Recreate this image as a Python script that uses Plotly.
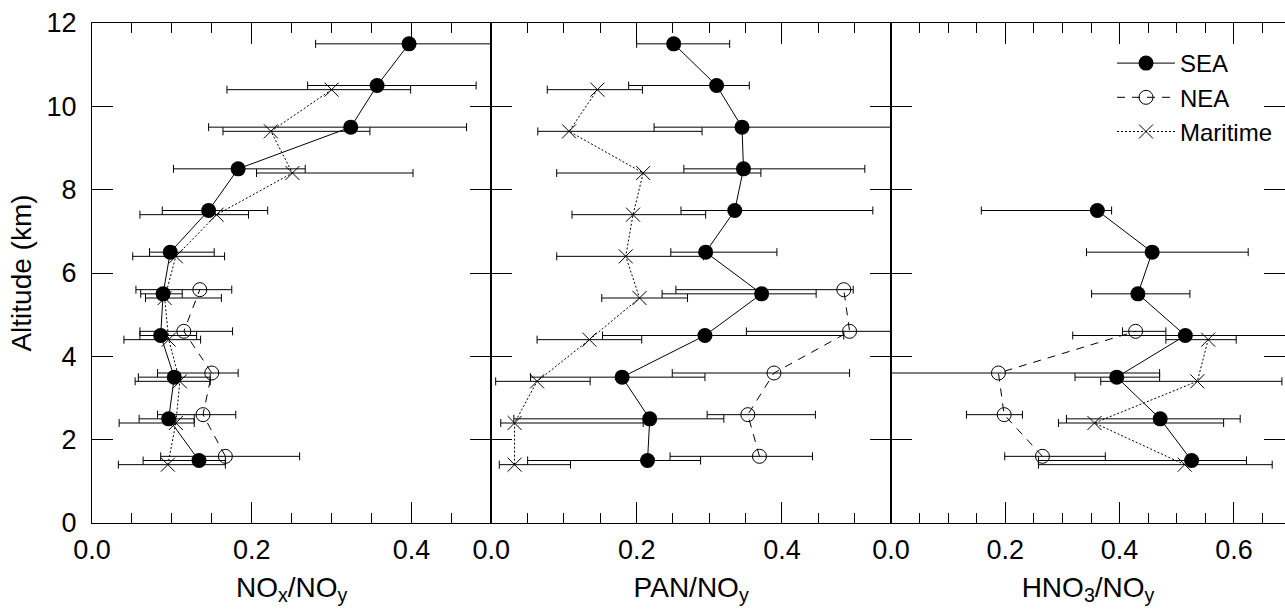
import plotly.graph_objects as go

# ---------------- data ----------------
alt_sea = [1.5, 2.5, 3.5, 4.5, 5.5, 6.5, 7.5, 8.5, 9.5, 10.5, 11.5]
alt_nea = [1.6, 2.6, 3.6, 4.6, 5.6]
alt_mar = [1.4, 2.4, 3.4, 4.4, 5.4, 6.4, 7.4, 8.4, 9.4, 10.4]
alt_sea_hno3 = [1.5, 2.5, 3.5, 4.5, 5.5, 6.5, 7.5]
alt_nea_hno3 = [1.6, 2.6, 3.6, 4.6]
alt_mar_hno3 = [1.4, 2.4, 3.4, 4.4]

# NOx/NOy
nox_sea = [0.134, 0.096, 0.103, 0.086, 0.089, 0.098, 0.146, 0.183, 0.324, 0.357, 0.397]
nox_sea_lo = [0.064, 0.059, 0.058, 0.060, 0.061, 0.072, 0.088, 0.102, 0.146, 0.270, 0.280]
nox_sea_hi = [0.167, 0.128, 0.148, 0.131, 0.113, 0.153, 0.220, 0.267, 0.469, 0.481, 0.502]
nox_nea = [0.167, 0.139, 0.150, 0.115, 0.135]
nox_nea_lo = [0.086, 0.082, 0.082, 0.060, 0.055]
nox_nea_hi = [0.260, 0.180, 0.183, 0.176, 0.175]
nox_mar = [0.095, 0.105, 0.110, 0.096, 0.091, 0.105, 0.156, 0.251, 0.224, 0.300]
nox_mar_lo = [0.033, 0.034, 0.054, 0.040, 0.067, 0.051, 0.060, 0.206, 0.164, 0.169]
nox_mar_hi = [0.167, 0.128, 0.148, 0.136, 0.162, 0.166, 0.196, 0.402, 0.348, 0.399]

# PAN/NOy
pan_sea = [0.215, 0.218, 0.180, 0.294, 0.372, 0.295, 0.335, 0.347, 0.345, 0.310, 0.251]
pan_sea_lo = [0.050, 0.031, 0.054, 0.153, 0.235, 0.247, 0.261, 0.265, 0.224, 0.189, 0.200]
pan_sea_hi = [0.288, 0.320, 0.294, 0.485, 0.447, 0.393, 0.525, 0.514, 0.560, 0.355, 0.328]
pan_nea = [0.369, 0.353, 0.389, 0.493, 0.485]
pan_nea_lo = [0.246, 0.297, 0.249, 0.351, 0.254]
pan_nea_hi = [0.442, 0.446, 0.493, 0.560, 0.498]
pan_mar = [0.032, 0.032, 0.063, 0.135, 0.204, 0.185, 0.195, 0.209, 0.107, 0.146]
pan_mar_lo = [0.011, 0.013, 0.006, 0.063, 0.152, 0.090, 0.111, 0.090, 0.064, 0.077]
pan_mar_hi = [0.109, 0.209, 0.136, 0.207, 0.270, 0.292, 0.295, 0.371, 0.290, 0.208]

# HNO3/NOy
hno3_sea = [0.526, 0.471, 0.395, 0.515, 0.432, 0.457, 0.361]
hno3_sea_lo = [0.258, 0.307, 0.322, 0.318, 0.351, 0.342, 0.158]
hno3_sea_hi = [0.622, 0.611, 0.470, 0.750, 0.523, 0.625, 0.386]
hno3_nea = [0.265, 0.198, 0.188, 0.428]
hno3_nea_lo = [0.199, 0.132, -0.093, 0.405]
hno3_nea_hi = [0.375, 0.230, 0.470, 0.481]
hno3_mar = [0.514, 0.356, 0.536, 0.555]
hno3_mar_lo = [0.258, 0.293, 0.367, 0.481]
hno3_mar_hi = [0.667, 0.582, 0.684, 0.604]

x_titles = ["NO<sub>x</sub>/NO<sub>y</sub>", "PAN/NO<sub>y</sub>", "HNO<sub>3</sub>/NO<sub>y</sub>"]
x_ranges = [[0, 0.5], [0, 0.55], [0, 0.6894]]
series_names = ["SEA", "NEA", "Maritime"]

FONT = "Liberation Sans, Arial, sans-serif"
BLACK = "black"
TICK_SIZE = 27
TITLE_SIZE = 28

styles = {
    "SEA": dict(line=dict(color=BLACK, width=1, dash="solid"),
                marker=dict(symbol="circle", size=15, color=BLACK, line=dict(width=0))),
    "NEA": dict(line=dict(color=BLACK, width=1, dash="8px,7px"),
                marker=dict(symbol="circle-open", size=14, color=BLACK, line=dict(width=1, color=BLACK))),
    "Maritime": dict(line=dict(color=BLACK, width=1, dash="2px,2px"),
                     marker=dict(symbol="x-thin-open", size=14, color=BLACK, line=dict(width=1, color=BLACK))),
}
rank = {"SEA": 1, "NEA": 2, "Maritime": 3}

panels = [
    {"SEA": (alt_sea, nox_sea, nox_sea_lo, nox_sea_hi),
     "NEA": (alt_nea, nox_nea, nox_nea_lo, nox_nea_hi),
     "Maritime": (alt_mar, nox_mar, nox_mar_lo, nox_mar_hi)},
    {"SEA": (alt_sea, pan_sea, pan_sea_lo, pan_sea_hi),
     "NEA": (alt_nea, pan_nea, pan_nea_lo, pan_nea_hi),
     "Maritime": (alt_mar, pan_mar, pan_mar_lo, pan_mar_hi)},
    {"SEA": (alt_sea_hno3, hno3_sea, hno3_sea_lo, hno3_sea_hi),
     "NEA": (alt_nea_hno3, hno3_nea, hno3_nea_lo, hno3_nea_hi),
     "Maritime": (alt_mar_hno3, hno3_mar, hno3_mar_lo, hno3_mar_hi)},
]

fig = go.Figure()
for i, panel in enumerate(panels):
    xa = "x" if i == 0 else f"x{i+1}"
    ya = "y" if i == 0 else f"y{i+1}"
    for name in ["Maritime", "NEA", "SEA"]:
        alt, val, lo, hi = panel[name]
        plus = [h - v for h, v in zip(hi, val)]
        minus = [v - l for v, l in zip(val, lo)]
        fig.add_trace(go.Scatter(
            x=val, y=alt, xaxis=xa, yaxis=ya, mode="lines+markers", name=name,
            showlegend=(i == 0), legendrank=rank[name],
            line=styles[name]["line"], marker=styles[name]["marker"],
            error_x=dict(type="data", symmetric=False, array=plus, arrayminus=minus,
                         color=BLACK, thickness=1, width=4),
            cliponaxis=True,
        ))

L, R = 92, 0
W, H = 1285, 610
area = W - L - R
d1 = 399.3 / area
d2 = 799.0 / area
domains = [[0, d1], [d1, d2], [d2, 1.0]]

layout = dict(
    width=W, height=H,
    margin=dict(l=L, r=R, t=23, b=87, pad=0),
    paper_bgcolor="white", plot_bgcolor="white",
    font=dict(family=FONT, size=TICK_SIZE, color=BLACK),
    showlegend=True,
    legend=dict(x=0.855, y=0.964, xanchor="left", yanchor="top",
                bgcolor="rgba(0,0,0,0)", borderwidth=0,
                font=dict(family=FONT, size=24, color=BLACK),
                tracegroupgap=0, itemwidth=58, traceorder="normal"),
)
for i in range(3):
    xk = "xaxis" if i == 0 else f"xaxis{i+1}"
    yk = "yaxis" if i == 0 else f"yaxis{i+1}"
    ya = "y" if i == 0 else f"y{i+1}"
    xa = "x" if i == 0 else f"x{i+1}"
    layout[xk] = dict(
        domain=domains[i], anchor=ya, range=x_ranges[i],
        tick0=0, dtick=0.2, tickformat=".1f",
        ticks="inside", ticklen=21, tickwidth=1, tickcolor=BLACK,
        showline=True, linecolor=BLACK, linewidth=1, mirror="ticks",
        showgrid=False, zeroline=False, ticklabelstandoff=3,
        minor=dict(dtick=0.05, tick0=0, ticks="inside", ticklen=10, tickwidth=1,
                   tickcolor=BLACK, showgrid=False),
        tickfont=dict(family=FONT, size=TICK_SIZE, color=BLACK),
        title=dict(text=x_titles[i], font=dict(family=FONT, size=TITLE_SIZE, color=BLACK), standoff=12),
    )
    layout[yk] = dict(
        domain=[0, 1], anchor=xa, range=[0, 12], tick0=0, dtick=2,
        ticks="inside", ticklen=21, tickwidth=1, tickcolor=BLACK,
        showline=True, linecolor=BLACK, linewidth=1, mirror="ticks",
        showgrid=False, zeroline=False,
        showticklabels=(i == 0), ticklabelstandoff=9,
        tickfont=dict(family=FONT, size=TICK_SIZE, color=BLACK),
    )
    if i == 0:
        layout[yk]["title"] = dict(text="Altitude (km)", font=dict(family=FONT, size=TITLE_SIZE, color=BLACK), standoff=6)
    else:
        layout[yk]["matches"] = "y"

fig.update_layout(**layout)
fig.write_html("out.html", config={"displayModeBar": False},
               post_script="document.body.style.margin='0px';")
